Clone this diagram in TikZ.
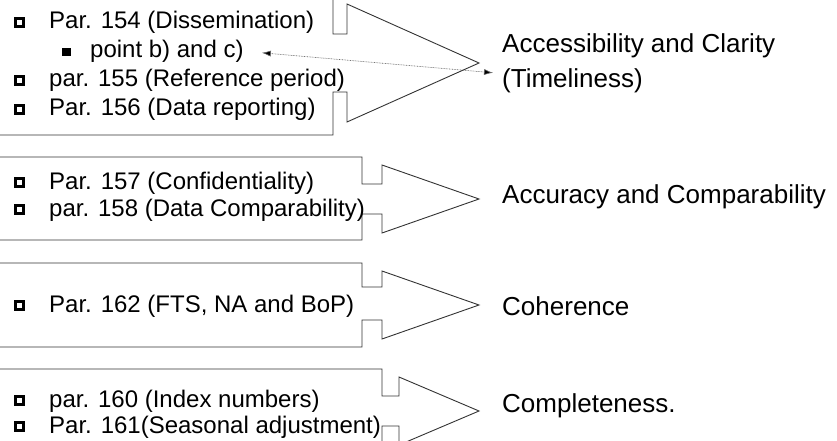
\documentclass[tikz,border=0pt]{standalone}
\usepackage{fontspec}
\setmainfont{Liberation Sans}
\usetikzlibrary{positioning,arrows.meta}

\tikzset{
  arrowshape/.style={draw=black!80, line width=0.9pt, fill=white, line join=miter},
  itemtext/.style={anchor=base west, inner sep=0pt, font=\fontsize{24}{28}\selectfont},
  qualitylabel/.style={anchor=base west, inner sep=0pt, font=\fontsize{26}{30}\selectfont},
  openbullet/.style={draw, line width=2.6pt, minimum size=8pt, inner sep=0pt},
  fullbullet/.style={fill, minimum size=8.5pt, inner sep=0pt},
  dotconn/.style={{Latex[length=9pt,width=6pt,fill=black]}-{Latex[length=9pt,width=6pt,fill=black]},
    draw=black!60, line width=0.6pt, dash pattern=on 0.8pt off 0.8pt}
}

\begin{document}
\begin{tikzpicture}[x=1pt,y=-1pt]

\useasboundingbox (0,0) rectangle (837,441);
\clip (0,0) rectangle (837,441);

% Arrow 1
\draw [arrowshape] (-5,-9) -- (333,-9) -- (333,34) -- (347,34) -- (347,4)
  -- (479,63) -- (347,122) -- (347,92) -- (333,92) -- (333,135) -- (-5,135) -- cycle;

% Arrow 2
\draw [arrowshape] (-5,157) -- (362,157) -- (362,184) -- (382,184) -- (382,165)
  -- (479,199) -- (382,233) -- (382,214) -- (362,214) -- (362,240) -- (-5,240) -- cycle;

% Arrow 3
\draw [arrowshape] (-5,263) -- (362,263) -- (362,287) -- (382,287) -- (382,271)
  -- (479,305) -- (382,339) -- (382,320) -- (362,320) -- (362,347) -- (-5,347) -- cycle;

% Arrow 4
\draw [arrowshape] (-5,369) -- (382,369) -- (382,396) -- (399,396) -- (399,377)
  -- (479,411) -- (399,445) -- (399,426) -- (382,426) -- (382,453) -- (-5,453) -- cycle;

% Items of box 1
\node [itemtext] (par154) at (49,29) {Par. 154 (Dissemination)};
\node [itemtext] (pointbc) at (90,58) {point b) and c)};
\node [itemtext] (par155) at (49,87) {par. 155 (Reference period)};
\node [itemtext] (par156) at (49,116) {Par. 156 (Data reporting)};

% Items of box 2
\node [itemtext] (par157) at (49,189) {Par. 157 (Confidentiality)};
\node [itemtext] (par158) at (49,216) {par. 158 (Data Comparability)};

% Item of box 3
\node [itemtext] (par162) at (49,312) {Par. 162 (FTS, NA and BoP)};

% Items of box 4
\node [itemtext] (par160) at (49,407) {par. 160 (Index numbers)};
\node [itemtext] (par161) at (49,433) {Par. 161(Seasonal adjustment)};

% Bullets
\foreach \item in {par154,par155,par156,par157,par158,par162,par160,par161}
  \node [openbullet, left=24pt of \item] (b\item) {};
\node [fullbullet, left=19pt of pointbc] (bpointbc) {};

% Quality labels
\node [qualitylabel] (accessibility) at (502,53) {Accessibility and Clarity};
\node [qualitylabel] (timeliness) at (502,88) {(Timeliness)};
\node [qualitylabel] (accuracy) at (502,203) {Accuracy and Comparability};
\node [qualitylabel] (coherence) at (502,315) {Coherence};
\node [qualitylabel] (completeness) at (502,412) {Completeness.};

% Dotted link
\draw [dotconn] ([xshift=18pt,yshift=-1pt]pointbc.east) -- ([xshift=-9pt,yshift=8.5pt]timeliness.west);

\end{tikzpicture}
\end{document}
